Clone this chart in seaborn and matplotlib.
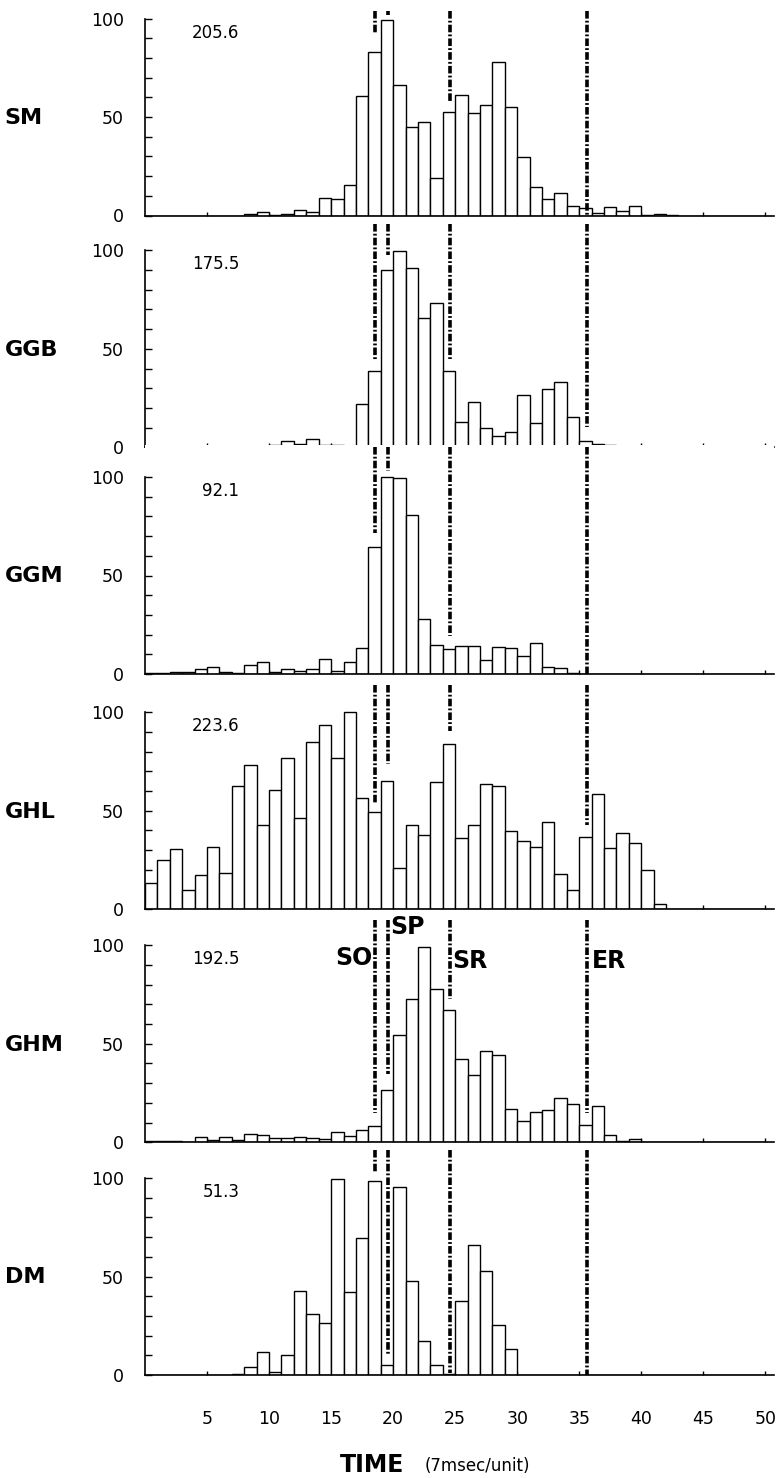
import numpy as np
import pandas as pd
import matplotlib
matplotlib.use("Agg")
import matplotlib.pyplot as plt
import seaborn as sns

# spike counts per 7 msec bin (bins 1..50), one list per muscle
panels = ["SM", "GGB", "GGM", "GHL", "GHM", "DM"]
totals = ["205.6", "175.5", "92.1", "223.6", "192.5", "51.3"]

sm = [0, 0, 0, 0, 0, 0, 0, 0, 0.8, 1.7,
      0.3, 0.8, 3.0, 2.0, 8.7, 8.2, 15.5, 60.5, 83.2, 99,
      66, 45, 47.6, 19.2, 52.4, 61, 52.1, 56.1, 78, 55,
      29.7, 14.6, 8.2, 11.3, 4.7, 3.9, 1.3, 4.2, 2.2, 5.0,
      0.5, 0.7, 0.2, 0, 0, 0, 0, 0, 0, 0]
ggb = [0, 0, 0, 0, 0, 0, 0, 0, 0, 0.3,
       1.0, 3.3, 1.8, 4.0, 1.0, 1.3, 0, 21.8, 38.7, 90.2,
       99.7, 91.2, 65.4, 73.5, 38.7, 13, 23, 9.6, 5.6, 7.9,
       26.4, 12.2, 29.4, 33.1, 15.2, 3.4, 1.8, 1.1, 0.4, 0,
       0, 0, 0, 0, 0, 0, 0, 0, 0, 0]
ggm = [0.3, 0.5, 0.8, 1.2, 2.3, 3.7, 1.2, 0.7, 4.5, 5.9,
       0.9, 2.6, 1.4, 2.4, 7.5, 1.7, 6.1, 13, 64.7, 100,
       99.5, 80.8, 27.7, 14.8, 12.9, 14, 14, 7.2, 13.7, 13,
       8.9, 15.5, 3.7, 2.8, 0.5, 0, 0, 0, 0, 0,
       0, 0, 0, 0, 0, 0, 0, 0, 0, 0]
ghl = [13.4, 24.8, 30.5, 10, 17.3, 31.8, 18.6, 62.6, 73.3, 42.5,
       60.3, 77, 46.2, 84.7, 93.4, 76.7, 100, 56.4, 49.1, 64.9,
       20.7, 42.8, 37.7, 64.5, 84, 36, 42.8, 63.5, 62.3, 39.7,
       34.8, 31.7, 44.1, 18.1, 9.7, 36.5, 58.4, 30.9, 38.9, 33.8,
       19.8, 2.4, 0, 0, 0, 0, 0, 0, 0, 0]
ghm = [0.6, 0.5, 0.4, 0.2, 2.7, 1.0, 2.5, 1.3, 4.2, 3.5,
       2.2, 1.9, 2.7, 2.2, 1.7, 5.1, 3.0, 6.4, 8.1, 26.4,
       54.6, 72.5, 99.3, 78, 67.2, 42, 34, 46.2, 44.2, 16.6,
       10.7, 15.4, 16.3, 22.2, 19.5, 8.5, 18.5, 3.9, 0.8, 1.4,
       0.3, 0, 0, 0, 0, 0, 0, 0, 0, 0]
dm = [0, 0, 0, 0, 0, 0, 0, 0.5, 4.2, 11.8,
      1.7, 10.1, 42.6, 30.8, 26.4, 99.7, 42, 69.3, 98.3, 5,
      95.2, 47.5, 17.3, 5, 0.7, 37.4, 66.2, 52.6, 25.3, 13,
      0, 0, 0, 0, 0, 0, 0, 0, 0, 0,
      0, 0, 0, 0, 0, 0, 0, 0, 0, 0]
counts = [sm, ggb, ggm, ghl, ghm, dm]

# event markers (SO, SP, SR, ER): time position, and the vertical extent of
# the dash-dot line in each panel
marker_names = ["SO", "SP", "SR", "ER"]
marker_x = [18.55, 19.55, 24.55, 35.65]
line_top = [103.7, 113.5, 115, 114, 112.7, 114]
so_bottom = [92, 44, 71.7, 53.8, 14.9, 103]
sp_bottom = [102, 97.5, 103, 73.9, 34.4, 10]
sr_bottom = [58.3, 44.8, 19.2, 90.3, 72.6, 1]
er_bottom = [0, 10.5, 0, 42.8, 14.9, 0]
line_bottoms = [so_bottom, sp_bottom, sr_bottom, er_bottom]

n_bins = 50
centers = np.arange(n_bins) + 0.5
df = pd.DataFrame({
    "panel": np.repeat(panels, n_bins),
    "time": np.tile(centers, len(panels)),
    "count": np.concatenate(counts),
})

sns.set_style("ticks")
plt.rcParams["font.family"] = ["DejaVu Sans"]
plt.rcParams.update({
    "text.color": "black",
    "axes.edgecolor": "black",
    "axes.labelcolor": "black",
    "xtick.color": "black",
    "ytick.color": "black",
})

W, H = 778, 1478
fig = plt.figure(figsize=(W / 100, H / 100), dpi=100)

baselines = [215.5, 447.3, 674, 909.2, 1142.2, 1375]
unit_px = 1.97
ymax = 116
left_px, right_px = 145, 774
dash_style = (0, (2.1, 0.6, 0.5, 0.6))

for i, name in enumerate(panels):
    ax = fig.add_axes([left_px / W, 1 - baselines[i] / H,
                       (right_px - left_px) / W, ymax * unit_px / H])
    sns.histplot(data=df[df["panel"] == name], x="time", weights="count",
                 bins=n_bins, binrange=(0, n_bins), color="white",
                 edgecolor="black", linewidth=1.0, alpha=1, ax=ax)
    ax.set_xlim(0, 50.7)
    ax.set_ylim(0, ymax)
    ax.set_xlabel("")
    ax.set_ylabel("")

    for spine in ["top", "right"]:
        ax.spines[spine].set_visible(False)
    ax.spines["left"].set_bounds(0, 100)
    ax.spines["left"].set_linewidth(1.2)
    ax.spines["bottom"].set_linewidth(1.2)

    ax.set_yticks([0, 50, 100])
    ax.set_yticks(range(0, 101, 10), minor=True)
    ax.tick_params(axis="y", which="both", direction="in", length=5,
                   width=1, labelsize=12.5, pad=15)
    ax.set_xticks(range(5, 51, 5))
    ax.tick_params(axis="x", direction="in", length=3, width=1,
                   labelsize=12.5, pad=25, labelbottom=(i == len(panels) - 1))

    # dash-dot event lines
    for xm, bottoms in zip(marker_x, line_bottoms):
        ax.plot([xm, xm], [line_top[i], bottoms[i]], color="black",
                lw=2.6, linestyle=dash_style, solid_capstyle="butt",
                dash_capstyle="butt", zorder=3)

    ax.text(-11.3, 49.5, name, ha="left", va="center", fontsize=16,
            fontweight="bold", clip_on=False)
    ax.text(7.6, 92.8, totals[i], ha="right", va="center", fontsize=12)

    if name == "GHM":
        ax.text(18.3, 93.5, "SO", ha="right", va="center", fontsize=17,
                fontweight="bold")
        ax.text(19.75, 109, "SP", ha="left", va="center", fontsize=17,
                fontweight="bold")
        ax.text(24.75, 92, "SR", ha="left", va="center", fontsize=17,
                fontweight="bold")
        ax.text(36.0, 92, "ER", ha="left", va="center", fontsize=17,
                fontweight="bold")

fig.text(340 / W, 1 - 1465 / H, "TIME", ha="left", va="center",
         fontsize=17, fontweight="bold")
fig.text(425 / W, 1 - 1466 / H, "(7msec/unit)", ha="left", va="center",
         fontsize=12)

fig.savefig("out.png", dpi=100)
